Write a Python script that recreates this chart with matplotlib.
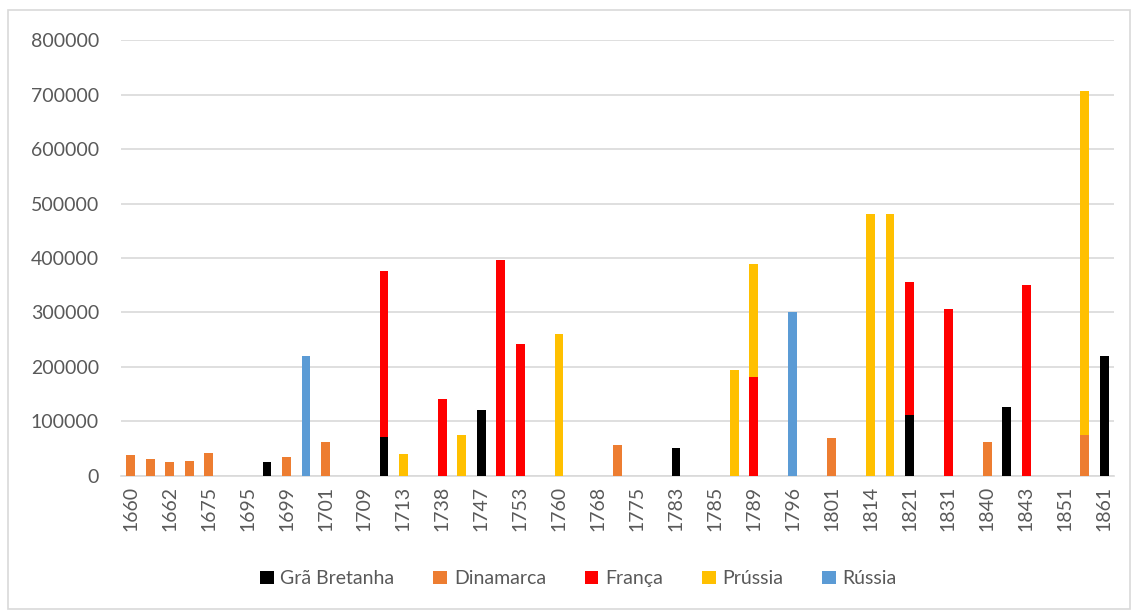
import matplotlib.pyplot as plt
import numpy as np
from matplotlib.patches import Rectangle

plt.rcParams['font.family'] = ['Lato', 'DejaVu Sans']

# anos (só os pares aparecem no eixo)
anos = ['1660', '1661', '1662', '1667', '1675', '1688', '1695', '1697', '1699', '1700',
        '1701', '1704', '1709', '1710', '1713', '1719', '1738', '1742', '1747', '1750',
        '1753', '1756', '1760', '1762', '1768', '1770', '1775', '1778', '1783', '1784',
        '1785', '1787', '1789', '1792', '1796', '1799', '1801', '1807', '1814', '1815',
        '1821', '1823', '1831', '1833', '1840', '1841', '1843', '1848', '1851', '1859',
        '1861']
n = len(anos)

gra_bretanha = np.zeros(n)
dinamarca = np.zeros(n)
franca = np.zeros(n)
prussia = np.zeros(n)
russia = np.zeros(n)

gra_bretanha[[7, 13, 18, 28, 40, 45, 50]] = [25000, 72000, 121000, 52000, 112000, 126000, 221000]
dinamarca[[0, 1, 2, 3, 4, 8, 10, 25, 36, 44, 49]] = [38000, 32000, 25000, 28000, 42000,
                                                    35000, 63000, 57000, 70000, 63000, 75000]
franca[[13, 16, 19, 20, 32, 40, 42, 46]] = [304000, 141000, 397000, 243000, 182000,
                                            244000, 306000, 350000]
prussia[[14, 17, 22, 31, 32, 38, 39, 49]] = [40000, 76000, 260000, 194000, 207000,
                                             480000, 480000, 631000]
russia[[9, 34]] = [220000, 300000]

series = [
    ('Grã Bretanha', gra_bretanha, '#000000'),
    ('Dinamarca', dinamarca, '#ED7D31'),
    ('França', franca, '#FF0000'),
    ('Prússia', prussia, '#FFC000'),
    ('Rússia', russia, '#5B9BD5'),
]

fig = plt.figure(figsize=(11.32, 6.11), dpi=100)
ax = fig.add_axes([0.107, 0.221, 0.877, 0.7135])

x = np.arange(n)
base = np.zeros(n)
for nome, vals, cor in series:
    ax.bar(x, vals, 0.45, bottom=base, color=cor, label=nome, zorder=3)
    base = base + vals

ax.set_xlim(-0.5, n - 0.5)
ax.set_ylim(0, 800000)
ax.set_yticks(np.arange(0, 800001, 100000))
ax.set_yticklabels([str(v) for v in range(0, 800001, 100000)])
ax.set_xticks(x[::2])
ax.set_xticklabels(anos[::2], rotation=90)
ax.tick_params(axis='both', length=0, labelsize=14, colors='#595959', pad=7)
ax.tick_params(axis='y', pad=16)
ax.grid(axis='y', color='#d9d9d9', linewidth=1.2, zorder=0)
for s in ['top', 'right', 'left']:
    ax.spines[s].set_visible(False)
ax.spines['bottom'].set_color('#d9d9d9')
ax.spines['bottom'].set_linewidth(1.2)

fig.legend(loc='center', bbox_to_anchor=(0.511, 0.053), ncol=5, frameon=False,
           fontsize=14, handlelength=0.7, handleheight=0.7, handletextpad=0.35,
           columnspacing=2.0, labelcolor='#595959')

# moldura do gráfico
fig.patches.append(Rectangle((0.007, 0.003), 0.991, 0.98, transform=fig.transFigure,
                             fill=False, edgecolor='#d9d9d9', linewidth=1.2))

plt.savefig('out.png', dpi=100)
